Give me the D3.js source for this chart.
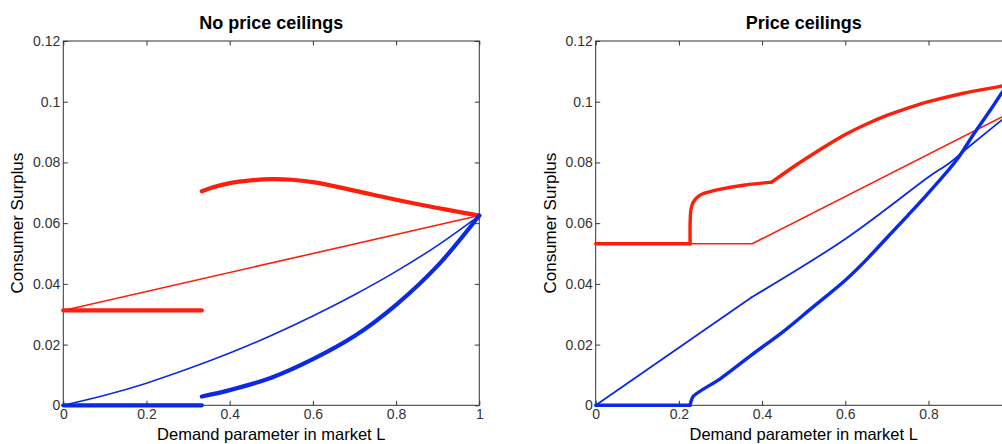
<!DOCTYPE html>
<html>
<head>
<meta charset="utf-8">
<script src="https://cdn.jsdelivr.net/npm/d3@7"></script>
<style>
  html, body { margin: 0; padding: 0; background: #fff; }
  svg { display: block; font-family: "Liberation Sans", Arial, sans-serif; }
</style>
</head>
<body>
<svg id="chart" width="1002" height="444"></svg>
<script>
// ---------- data ----------
const panelTitles = ["No price ceilings", "Price ceilings"];
const xLabel = "Demand parameter in market L";
const yLabel = "Consumer Surplus";
const xTicks = [0, 0.2, 0.4, 0.6, 0.8, 1];
const xTickLabels = ["0", "0.2", "0.4", "0.6", "0.8", "1"];
const yTicks = [0, 0.02, 0.04, 0.06, 0.08, 0.1, 0.12];
const yTickLabels = ["0", "0.02", "0.04", "0.06", "0.08", "0.1", "0.12"];

// Left panel (no price ceilings)
const L_thickRedFlatX = [0, 0.333];
const L_thickRedFlatY = [0.03125, 0.03125];
const L_thickRedCurveX = [0.333, 0.36, 0.4, 0.45, 0.5, 0.55, 0.6, 0.65, 0.7, 0.75, 0.8, 0.85, 0.9, 0.95, 1];
const L_thickRedCurveY = [0.0705, 0.0718, 0.0732, 0.0741, 0.0745, 0.0743, 0.0735, 0.0722, 0.0707, 0.0692, 0.0677, 0.0663, 0.0650, 0.0637, 0.0625];
const L_thinRedX = [0, 1];
const L_thinRedY = [0.03125, 0.0625];
const L_thinBlueX = [0, 0.1, 0.2, 0.3, 0.4, 0.5, 0.6, 0.7, 0.8, 0.9, 1];
const L_thinBlueY = [0, 0.0033, 0.0073, 0.0120, 0.0172, 0.0230, 0.0294, 0.0364, 0.0441, 0.0527, 0.0625];
const L_thickBlueFlatX = [0, 0.333];
const L_thickBlueFlatY = [0, 0];
const L_thickBlueCurveX = [0.333, 0.4, 0.5, 0.6, 0.7, 0.8, 0.9, 1];
const L_thickBlueCurveY = [0.0029, 0.0050, 0.0091, 0.0152, 0.0228, 0.0331, 0.0460, 0.0625];

// Right panel (price ceilings)
const R_thickRedFlatX = [0, 0.227];
const R_thickRedFlatY = [0.0532, 0.0532];
const R_thickRedRiseX = [0.227, 0.227, 0.229, 0.234, 0.243, 0.255, 0.275, 0.3, 0.355, 0.423];
const R_thickRedRiseY = [0.0532, 0.0600, 0.0645, 0.0668, 0.0684, 0.0695, 0.0704, 0.0712, 0.0725, 0.0735];
const R_thickRedUpperX = [0.423, 0.48, 0.539, 0.6, 0.65, 0.7, 0.763, 0.8, 0.884, 0.95, 1];
const R_thickRedUpperY = [0.0735, 0.0790, 0.0842, 0.0892, 0.0926, 0.0955, 0.0985, 0.1000, 0.1028, 0.1045, 0.1057];
const R_thinRedX = [0, 0.376, 1];
const R_thinRedY = [0.0532, 0.0532, 0.0966];
const R_thinBlueLowX = [0, 0.375];
const R_thinBlueLowY = [0, 0.0356];
const R_thinBlueHighX = [0.375, 0.491, 0.6, 0.7, 0.8, 0.852, 0.9, 1];
const R_thinBlueHighY = [0.0356, 0.0452, 0.0548, 0.0648, 0.0752, 0.0800, 0.0855, 0.0966];
const R_thickBlueFlatX = [0, 0.227];
const R_thickBlueFlatY = [0, 0];
const R_thickBlueCurveX = [0.227, 0.229, 0.235, 0.3, 0.375, 0.45, 0.519, 0.6, 0.651, 0.7, 0.75, 0.8, 0.868, 0.908, 0.95, 0.976, 1];
const R_thickBlueCurveY = [0, 0.0012, 0.003, 0.0088, 0.0166, 0.0242, 0.032, 0.0412, 0.048, 0.0552, 0.0625, 0.0700, 0.0809, 0.0892, 0.0975, 0.1029, 0.1075];

// ---------- drawing ----------
const RED = "#ff1e0a";
const BLUE = "#0b2ae6";
const svg = d3.select("#chart");

const plotW = 416, plotTop = 41, plotBottom = 405.3;
const smooth = d3.curveCatmullRom.alpha(0.5);
const straight = d3.curveLinear;
const panels = [
  { x0: 63.3, title: panelTitles[0], showLast: true, series: [
      { x: L_thinRedX, y: L_thinRedY, c: RED, w: 1.6, k: straight },
      { x: L_thinBlueX, y: L_thinBlueY, c: BLUE, w: 1.6, k: smooth },
      { x: L_thickRedFlatX, y: L_thickRedFlatY, c: RED, w: 4.2, k: straight },
      { x: L_thickRedCurveX, y: L_thickRedCurveY, c: RED, w: 4.2, k: smooth },
      { x: L_thickBlueFlatX, y: L_thickBlueFlatY, c: BLUE, w: 4.2, k: straight },
      { x: L_thickBlueCurveX, y: L_thickBlueCurveY, c: BLUE, w: 4.2, k: smooth }
  ]},
  { x0: 595.7, title: panelTitles[1], showLast: false, series: [
      { x: R_thinRedX, y: R_thinRedY, c: RED, w: 1.6, k: straight },
      { x: R_thinBlueLowX, y: R_thinBlueLowY, c: BLUE, w: 1.8, k: straight },
      { x: R_thinBlueHighX, y: R_thinBlueHighY, c: BLUE, w: 1.8, k: smooth },
      { x: R_thickRedFlatX, y: R_thickRedFlatY, c: RED, w: 3.4, k: straight },
      { x: R_thickRedRiseX, y: R_thickRedRiseY, c: RED, w: 3.4, k: smooth },
      { x: R_thickRedUpperX, y: R_thickRedUpperY, c: RED, w: 3.4, k: smooth },
      { x: R_thickBlueFlatX, y: R_thickBlueFlatY, c: BLUE, w: 3.4, k: straight },
      { x: R_thickBlueCurveX, y: R_thickBlueCurveY, c: BLUE, w: 3.4, k: smooth }
  ]}
];

panels.forEach(p => {
  const x = d3.scaleLinear().domain([0, 1]).range([p.x0, p.x0 + plotW]);
  const y = d3.scaleLinear().domain([0, 0.12]).range([plotBottom, plotTop]);
  const g = svg.append("g");

  // frame
  g.append("rect")
    .attr("x", x(0)).attr("y", y(0.12))
    .attr("width", x(1) - x(0)).attr("height", y(0) - y(0.12))
    .attr("fill", "none").attr("stroke", "#333").attr("stroke-width", 1);

  const tickLen = 4.5;
  const styleAxis = sel => {
    sel.select(".domain").remove();
    sel.selectAll(".tick line").attr("stroke", "#333");
    sel.selectAll(".tick text").attr("fill", "#333")
      .style("font-size", "14px").style("font-family", "'Liberation Sans', Arial, sans-serif");
  };

  // labels beyond the visible canvas (right panel's "1") are not drawn
  const xl = (d, i) => (i === xTicks.length - 1 && !p.showLast) ? "" : xTickLabels[i];

  g.append("g").attr("transform", `translate(0,${y(0)})`)
    .call(d3.axisBottom(x).tickValues(xTicks).tickFormat(xl).tickSizeInner(-tickLen).tickSizeOuter(0).tickPadding(4))
    .call(styleAxis);
  g.append("g").attr("transform", `translate(0,${y(0.12)})`)
    .call(d3.axisTop(x).tickValues(xTicks).tickFormat("").tickSizeInner(-tickLen).tickSizeOuter(0))
    .call(styleAxis);
  g.append("g").attr("transform", `translate(${x(0)},0)`)
    .call(d3.axisLeft(y).tickValues(yTicks).tickFormat((d, i) => yTickLabels[i]).tickSizeInner(-tickLen).tickSizeOuter(0).tickPadding(3))
    .call(styleAxis);
  g.append("g").attr("transform", `translate(${x(1)},0)`)
    .call(d3.axisRight(y).tickValues(yTicks).tickFormat("").tickSizeInner(-tickLen).tickSizeOuter(0))
    .call(styleAxis);

  // lines
  p.series.forEach(s => {
    const line = d3.line().x(d => x(d[0])).y(d => y(d[1])).curve(s.k);
    const pts = s.x.map((v, i) => [v, s.y[i]]);
    g.append("path").attr("d", line(pts))
      .attr("fill", "none").attr("stroke", s.c).attr("stroke-width", s.w)
      .attr("stroke-linecap", "round").attr("stroke-linejoin", "round");
  });

  // title
  g.append("text").attr("x", (x(0) + x(1)) / 2).attr("y", 29)
    .attr("text-anchor", "middle").style("font-size", "18px").style("font-weight", "bold")
    .attr("fill", "#000").text(p.title);
  // x label
  g.append("text").attr("x", (x(0) + x(1)) / 2).attr("y", 440)
    .attr("text-anchor", "middle").style("font-size", "16.5px").attr("fill", "#000").text(xLabel);
  // y label
  g.append("text").attr("transform", `translate(${p.x0 - 40},${(plotTop + plotBottom) / 2}) rotate(-90)`)
    .attr("text-anchor", "middle").style("font-size", "17px").attr("fill", "#000").text(yLabel);
});
</script>
</body>
</html>
